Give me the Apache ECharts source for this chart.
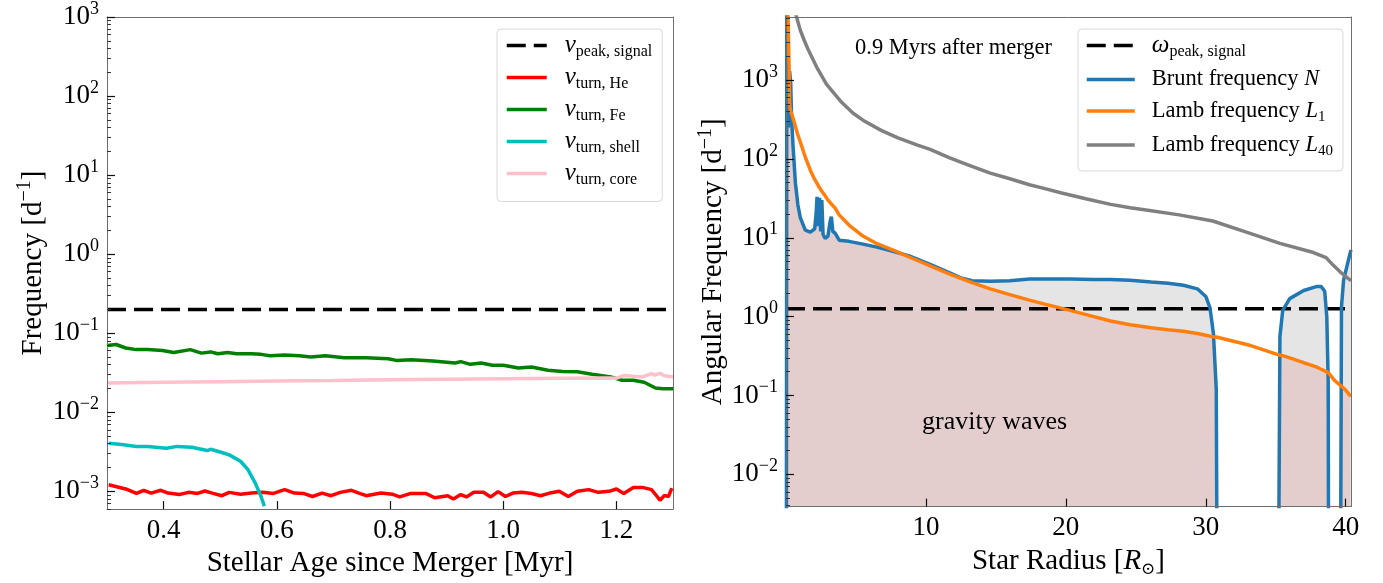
<!DOCTYPE html>
<html><head><meta charset="utf-8">
<script src="https://cdn.jsdelivr.net/npm/echarts@6/dist/echarts.min.js"></script>
<style>html,body{margin:0;padding:0;background:#fff}#c{width:1383px;height:583px}</style>
</head><body><div id="c"></div>
<script>
// ---------------- Left panel data ----------------
const agePeak = [0.3, 1.3];
const nuPeak = [0.2, 0.2];

const ageHe = [0.303,0.333,0.352,0.365,0.378,0.395,0.408,0.428,0.444,0.460,0.473,0.486,0.503,0.516,0.536,0.555,0.575,0.594,0.614,0.631,0.647,0.663,0.680,0.696,0.712,0.732,0.745,0.758,0.784,0.804,0.817,0.837,0.863,0.879,0.902,0.912,0.925,0.935,0.948,0.965,0.978,0.991,1.004,1.017,1.033,1.050,1.066,1.082,1.099,1.115,1.131,1.151,1.168,1.187,1.200,1.213,1.230,1.246,1.262,1.272,1.277,1.285,1.292,1.298];
const nuHe = [0.00121,0.00107,0.00094,0.00103,0.00095,0.00103,0.00095,0.00091,0.00097,0.00094,0.00101,0.00095,0.00088,0.00097,0.00092,0.00095,0.00097,0.00094,0.00105,0.00095,0.00094,0.00086,0.00095,0.00088,0.00097,0.00103,0.00095,0.00088,0.00095,0.00092,0.00085,0.00094,0.00094,0.00083,0.00088,0.00080,0.00091,0.00085,0.00097,0.00097,0.00085,0.00099,0.00086,0.00095,0.00097,0.00094,0.00088,0.00095,0.00100,0.00086,0.00100,0.00105,0.00097,0.00100,0.00107,0.00094,0.00112,0.00112,0.00105,0.00086,0.00077,0.00089,0.00086,0.00110];

const ageFe = [0.300,0.316,0.333,0.352,0.372,0.398,0.418,0.447,0.467,0.483,0.496,0.513,0.529,0.555,0.572,0.588,0.614,0.640,0.660,0.686,0.719,0.758,0.797,0.811,0.837,0.876,0.915,0.925,0.942,0.961,0.981,1.000,1.027,1.050,1.079,1.105,1.131,1.157,1.190,1.210,1.230,1.249,1.269,1.282,1.300];
const nuFe = [0.070,0.072,0.065,0.062,0.062,0.0605,0.057,0.062,0.056,0.058,0.055,0.057,0.055,0.055,0.054,0.052,0.053,0.052,0.050,0.052,0.049,0.049,0.0475,0.0453,0.046,0.0444,0.042,0.0437,0.0404,0.042,0.0393,0.0393,0.0363,0.0373,0.034,0.0328,0.0325,0.0302,0.028,0.0254,0.0254,0.024,0.0203,0.0198,0.0198];

const ageShell = [0.303,0.326,0.352,0.372,0.405,0.424,0.450,0.477,0.483,0.503,0.516,0.536,0.549,0.562,0.572,0.578];
const nuShell = [0.00405,0.0039,0.00368,0.0037,0.0035,0.0037,0.0036,0.00328,0.0034,0.0031,0.00289,0.0024,0.00188,0.00127,0.000865,0.00065];

const ageCore = [0.300,0.400,0.500,0.600,0.700,0.800,0.900,1.000,1.100,1.187,1.200,1.213,1.230,1.246,1.262,1.268,1.277,1.285,1.300];
const nuCore = [0.0235,0.0240,0.0244,0.0248,0.0252,0.0257,0.0261,0.0265,0.0269,0.0272,0.0270,0.0291,0.0285,0.0280,0.0308,0.0296,0.0310,0.0290,0.0280];

const ageTicks = [0.4, 0.6, 0.8, 1.0, 1.2];

// ---------------- Right panel data ----------------
const radiusPeak = [0, 40.38];
const omegaPeak = [1.257, 1.257];

const radius = [0.02,0.06,0.12,0.17,0.22,0.26,0.30,0.34,0.40,0.50,0.67,0.85,1.02,1.38,1.74,2.05,2.15,2.22,2.30,2.40,2.48,2.56,2.65,2.80,3.00,3.15,3.24,3.35,3.50,3.80,4.50,5.50,6.50,7.70,8.80,10.3,11.7,12.5,13.3,14.6,16.0,17.4,18.5,20.3,22.0,23.2,24.6,26.1,27.3,28.4,29.4,30.0,30.3,30.55,30.75,30.85,33.0,35.15,35.3,35.5,36.0,37.0,37.9,38.25,38.5,38.65,38.75,38.8,39.2,39.6,39.7,39.85,40.07,40.3,40.38];
const brunt = [1e-5,2e4,2e4,250,700,1300,1350,900,320,150,50,26,18,12.5,11.8,13,20,33,14,32,12,30,11,9.8,10.5,16,18.5,12,11.5,9.3,9.0,8.3,7.6,6.7,5.9,4.6,3.6,3.1,2.85,2.8,2.85,3.0,3.0,3.0,2.95,2.96,2.9,2.75,2.65,2.5,2.25,1.8,1.3,0.6,0.12,1e-5,null,1e-5,0.56,1.2,1.69,2.14,2.4,2.4,2.1,1.0,0.15,1e-5,null,1e-5,1.33,2.9,4.2,6.2,7.0];
const lamb1 = [2e5,5e4,1.2e4,4000,1500,500,430,400,375,330,260,200,165,105,72,55,52,49,46,43,41,39,37,34,30,28,27,25.5,24,19.5,14.5,10.5,8.4,6.9,5.7,4.4,3.45,3.05,2.7,2.25,1.9,1.62,1.44,1.2,1.0,0.88,0.79,0.72,0.68,0.65,0.61,0.58,0.565,0.555,0.55,0.545,0.44,0.33,0.325,0.32,0.30,0.26,0.23,0.215,0.205,0.20,0.195,0.19,0.155,0.135,0.13,0.124,0.113,0.10,0.098];

const radius40 = [0.5,0.67,0.85,1.02,1.3,1.6,2.2,2.9,3.9,4.8,5.5,6.8,8.0,9.4,10.3,11.7,13.0,14.6,16.0,17.4,18.5,19.7,21.5,23.2,24.6,26.1,28.1,30.5,32.9,35.3,37.7,38.6,39.1,39.6,40.38];
const lamb40 = [9500,7200,5500,4300,3200,2400,1450,880,540,380,310,230,185,150,132,103,84,66,56,47,42,37,31,26.5,24,22,19.5,16.3,11.8,8.5,6.5,5.6,4.5,3.7,2.85];

const radiusTicks = [10, 20, 30, 40];
const decadeTicksL = [1e-3,1e-2,1e-1,1,10,100,1000];
const decadeTicksR = [1e-2,1e-1,1,10,100,1000];

// ---------------- helpers ----------------
const FONT = 'Liberation Serif';
const pairs = (xs, ys) => xs.map((x, i) => [x, ys[i]]);
function minorTicks(lo, hi) {
  const out = [];
  for (let e = lo; e <= hi; e++) for (let k = 2; k <= 9; k++) out.push(k * Math.pow(10, e));
  return out;
}
function powLabel(v) {
  const e = Math.round(Math.log10(v));
  return '{b|10}{s|' + (e < 0 ? '\u2212' + (-e) : e) + '}';
}
const tickRich = {
  b: {fontFamily: FONT, fontSize: 27, color: '#000', lineHeight: 34},
  s: {fontFamily: FONT, fontSize: 18, color: '#000', lineHeight: 18, verticalAlign: 'top'}
};
const frameColor = '#6e6e6e';

function makeAxes(gi, xmin, xmax, xticks, ymin, ymax, yticks, minors, xname, yname, ynameGap, xfmt) {
  const xAxes = [
    {gridIndex: gi, type: 'value', min: xmin, max: xmax, position: 'bottom', z: 10,
     name: xname, nameLocation: 'middle', nameGap: 33,
     nameTextStyle: {fontFamily: FONT, fontSize: 29, color: '#000',
       rich: {t: {fontFamily: FONT, fontSize: 29, color: '#000', lineHeight: 34},
              i: {fontFamily: FONT, fontSize: 29, fontStyle: 'italic', color: '#000', lineHeight: 34},
              s: {fontFamily: 'DejaVu Serif', fontSize: 17, color: '#000', lineHeight: 17, verticalAlign: 'bottom'}}},
     axisLine: {show: true, lineStyle: {color: frameColor, width: 1}},
     axisTick: {show: true, inside: true, length: 8, customValues: xticks, lineStyle: {color: '#111', width: 1.2}},
     axisLabel: {show: true, customValues: xticks, formatter: xfmt, fontFamily: FONT, fontSize: 27, color: '#000', margin: 8},
     splitLine: {show: false}},
    {gridIndex: gi, type: 'value', min: xmin, max: xmax, position: 'top', z: 10,
     axisLine: {show: true, onZero: false, lineStyle: {color: frameColor, width: 1}},
     axisTick: {show: false}, axisLabel: {show: false}, splitLine: {show: false}}
  ];
  const yAxes = [
    {gridIndex: gi, type: 'log', logBase: 10, min: ymin, max: ymax, position: 'left', z: 10,
     name: yname, nameLocation: 'middle', nameGap: ynameGap, nameRotate: 90,
     nameTextStyle: {fontFamily: FONT, fontSize: 29, color: '#000',
       rich: {t: {fontFamily: FONT, fontSize: 29, color: '#000', lineHeight: 36},
              s: {fontFamily: FONT, fontSize: 20, color: '#000', lineHeight: 20, verticalAlign: 'top'}}},
     axisLine: {show: true, onZero: false, lineStyle: {color: frameColor, width: 1}},
     axisTick: {show: true, inside: true, length: 8, customValues: yticks, lineStyle: {color: '#111', width: 1.2}},
     axisLabel: {show: true, customValues: yticks, formatter: powLabel, rich: tickRich, margin: 8},
     splitLine: {show: false}, minorTick: {show: false}},
    {gridIndex: gi, type: 'log', logBase: 10, min: ymin, max: ymax, position: 'left', z: 10,
     axisLine: {show: false},
     axisTick: {show: true, inside: true, length: 4, customValues: minors, lineStyle: {color: '#333', width: 1}},
     axisLabel: {show: false}, splitLine: {show: false}},
    {gridIndex: gi, type: 'log', logBase: 10, min: ymin, max: ymax, position: 'right', z: 10,
     axisLine: {show: true, onZero: false, lineStyle: {color: frameColor, width: 1}},
     axisTick: {show: false}, axisLabel: {show: false}, splitLine: {show: false}}
  ];
  return {xAxes, yAxes};
}

const yminL = Math.pow(10, -3.225), ymaxL = 1000;
const yminR = Math.pow(10, -2.41), ymaxR = Math.pow(10, 3.8);

const A = makeAxes(0, 0.3, 1.3, ageTicks, yminL, ymaxL, decadeTicksL, minorTicks(-4, 2).filter(v => v > yminL && v < ymaxL),
  'Stellar Age since Merger [Myr]', '{t|Frequency [d}{s|\u22121}{t|]}', 56, v => v.toFixed(1));
const B = makeAxes(1, 0, 40.38, radiusTicks, yminR, ymaxR, decadeTicksR, minorTicks(-3, 3).filter(v => v > yminR && v < ymaxR),
  '{t|Star Radius [}{i|R}{s|\u2299}{t|]}', '{t|Angular Frequency [d}{s|\u22121}{t|]}', 46, v => String(v));

const xAxis = A.xAxes.concat(B.xAxes);
const yAxis = A.yAxes.concat(B.yAxes);

const LW = 3.5;
function lineSeries(name, data, color, xi, yi, extra) {
  return Object.assign({name, type: 'line', data, xAxisIndex: xi, yAxisIndex: yi, symbol: 'none', showSymbol: false,
    lineStyle: {color, width: LW}, itemStyle: {color}, z: 5, animation: false, clip: true}, extra || {});
}

const minNL = radius.map((r, i) => (brunt[i] == null ? null : Math.min(brunt[i], lamb1[i])));

const legendText = {
  'nuPeak': '{sp|}{g|\u03bd}{s|peak, signal}',
  'nuHe': '{sp|}{g|\u03bd}{s|turn, He}',
  'nuFe': '{sp|}{g|\u03bd}{s|turn, Fe}',
  'nuShell': '{sp|}{g|\u03bd}{s|turn, shell}',
  'nuCore': '{sp|}{g|\u03bd}{s|turn, core}',
  'omegaPeak': '{sp|}{g|\u03c9}{s|peak, signal}',
  'brunt': '{sp|}{t|Brunt frequency }{i|N}',
  'lamb1': '{sp|}{t|Lamb frequency }{i|L}{s2|1}',
  'lamb40': '{sp|}{t|Lamb frequency }{i|L}{s2|40}'
};
const legendRich = (sp) => ({
  sp: {width: sp},
  g: {fontFamily: FONT, fontSize: 25, fontStyle: 'italic', color: '#000', lineHeight: 28},
  s: {fontFamily: FONT, fontSize: 16, color: '#000', lineHeight: 16, verticalAlign: 'bottom'},
  t: {fontFamily: FONT, fontSize: 22.5, color: '#000', lineHeight: 28},
  i: {fontFamily: FONT, fontSize: 22.5, fontStyle: 'italic', color: '#000', lineHeight: 28},
  s2: {fontFamily: FONT, fontSize: 15, color: '#000', lineHeight: 14, verticalAlign: 'bottom'}
});

const option = {
  backgroundColor: '#fff',
  animation: false,
  grid: [
    {left: 107, top: 16, width: 566, height: 497, show: false},
    {left: 786, top: 17, width: 565, height: 495, show: false}
  ],
  xAxis, yAxis,
  legend: [
    {data: ['nuPeak','nuHe','nuFe','nuShell','nuCore'], left: 497, top: 29, orient: 'vertical',
     itemWidth: 40, itemHeight: 12, itemGap: 5.5, padding: [4, 10, 14, 8], selectedMode: false,
     itemStyle: {opacity: 0}, lineStyle: {width: LW},
     borderColor: '#d8d8d8', borderWidth: 1, borderRadius: 4, backgroundColor: 'rgba(255,255,255,0.85)',
     formatter: n => legendText[n], textStyle: {rich: legendRich(13)}},
    {data: ['omegaPeak','brunt','lamb1','lamb40'], left: 1078, top: 29, orient: 'vertical',
     itemWidth: 48, itemHeight: 12, itemGap: 8.5, padding: [4, 10, 12, 7], selectedMode: false,
     itemStyle: {opacity: 0}, lineStyle: {width: LW},
     borderColor: '#d8d8d8', borderWidth: 1, borderRadius: 4, backgroundColor: 'rgba(255,255,255,0.85)',
     formatter: n => legendText[n], textStyle: {rich: legendRich(12)}}
  ],
  graphic: [
    {type: 'text', left: 855, top: 37, z: 20, style: {text: '0.9 Myrs after merger', font: '22.5px "Liberation Serif"', fill: '#000'}},
    {type: 'text', left: 922, top: 409, z: 20, style: {text: 'gravity waves', font: '26px "Liberation Serif"', fill: '#000'}}
  ],
  series: [
    lineSeries('nuPeak', pairs(agePeak, nuPeak), '#000', 0, 0, {lineStyle: {color: '#000', width: LW, type: [19, 8]}}),
    lineSeries('nuHe', pairs(ageHe, nuHe), '#ff0000', 0, 0),
    lineSeries('nuFe', pairs(ageFe, nuFe), '#008000', 0, 0),
    lineSeries('nuShell', pairs(ageShell, nuShell), '#00bfbf', 0, 0),
    lineSeries('nuCore', pairs(ageCore, nuCore), '#ffc0cb', 0, 0),
    {name: 'fillGray', type: 'line', data: pairs(radius, brunt), xAxisIndex: 2, yAxisIndex: 3, symbol: 'none',
     lineStyle: {width: 0, color: '#e5e5e5'}, areaStyle: {color: '#e5e5e5', opacity: 1, origin: 1e-6}, z: 1, silent: true, clip: true},
    {name: 'fillPink', type: 'line', data: pairs(radius, minNL), xAxisIndex: 2, yAxisIndex: 3, symbol: 'none',
     lineStyle: {width: 0, color: '#e3cdcd'}, areaStyle: {color: '#e3cdcd', opacity: 1, origin: 1e-6}, z: 2, silent: true, clip: true},
    lineSeries('omegaPeak', pairs(radiusPeak, omegaPeak), '#000', 2, 3, {lineStyle: {color: '#000', width: LW, type: [19, 8]}}),
    lineSeries('brunt', pairs(radius, brunt), '#1f77b4', 2, 3),
    lineSeries('lamb1', pairs(radius, lamb1), '#ff7f0e', 2, 3),
    lineSeries('lamb40', pairs(radius40, lamb40), '#808080', 2, 3)
  ]
};

const chart = echarts.init(document.getElementById('c'), null, {renderer: 'canvas'});
chart.setOption(option);
</script>
</body></html>
